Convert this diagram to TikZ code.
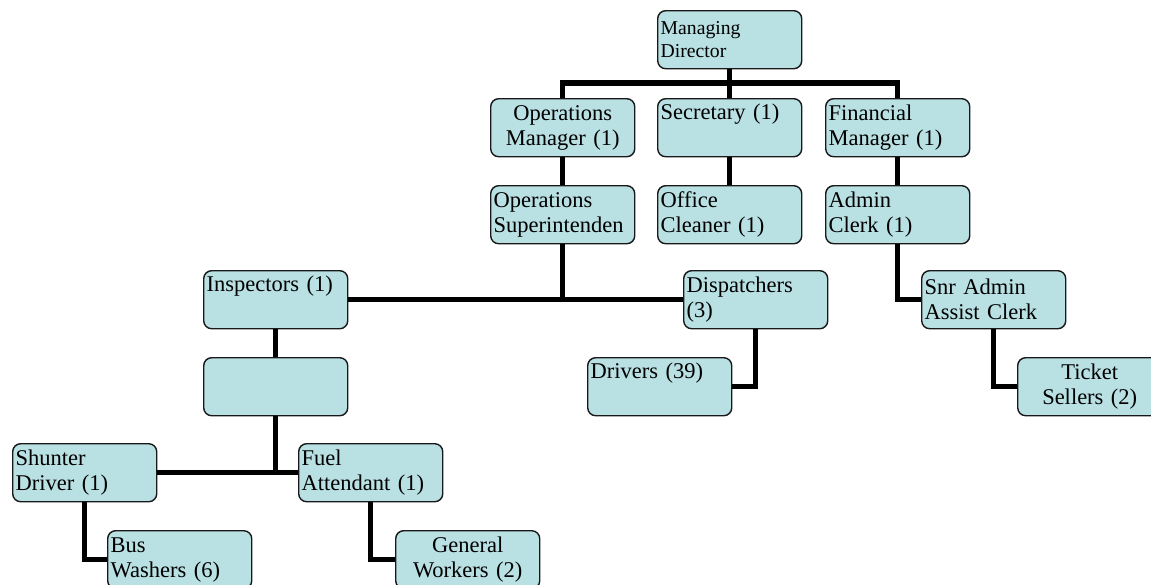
\documentclass[tikz,border=0pt]{standalone}
\usepackage{fontspec}
\setmainfont{Liberation Serif}
\definecolor{boxfill}{RGB}{185,224,227}
\definecolor{boxline}{RGB}{25,25,25}
\tikzset{
  post/.style={draw=boxline, line width=1pt, fill=boxfill, rounded corners=0.2cm,
    anchor=north west, minimum width=3.6cm, minimum height=1.45cm,
    text width=3.45cm, inner sep=0.075cm, align=left,
    font=\fontsize{16}{17.7}\selectfont},
  link/.style={line width=3.6pt}
}
\begin{document}
\begin{tikzpicture}
            \def\u{0.025}
            \useasboundingbox (0,0) rectangle (1151*\u, -584*\u);

            \node[post, font=\fontsize{14}{16.3}\selectfont] (md) at (657*\u, -10*\u) {Managing\\Director};

            \node[post, align=center] (opm) at (490*\u, -98*\u) {Operations\\Manager (1)};
            \node[post] (sec) at (657*\u, -98*\u) {Secretary (1)\\\strut};
            \node[post] (fin) at (825*\u, -98*\u) {Financial\\Manager (1)};

            \node[post] (ops) at (490*\u, -185*\u) {Operations\\Superintenden};
            \node[post] (cln) at (657*\u, -185*\u) {Office\\Cleaner (1)};
            \node[post] (clerk) at (825*\u, -185*\u) {Admin\\Clerk (1)};

            \node[post] (insp) at (203*\u, -270*\u) {Inspectors (1)\\\strut};
            \node[post] (disp) at (683*\u, -270*\u) {Dispatchers\\(3)};
            \node[post] (snr) at (921*\u, -270*\u) {Snr Admin\\Assist Clerk};

            \node[post] (blank) at (203*\u, -357*\u) {};
            \node[post] (drv) at (587*\u, -357*\u) {Drivers (39)\\\strut};
            \node[post, align=center] (tkt) at (1017*\u, -357*\u) {Ticket\\Sellers (2)};

            \node[post] (shunt) at (12*\u, -443*\u) {Shunter\\Driver (1)};
            \node[post] (fuel) at (298*\u, -443*\u) {Fuel\\Attendant (1)};

            \node[post] (bus) at (107*\u, -530*\u) {Bus\\Washers (6)};
            \node[post, align=center] (gen) at (395*\u, -530*\u) {General\\Workers (2)};

            \coordinate (J1) at (md.south |- 0,-83*\u);

            \draw[link] (md.south) -- (J1);
            \draw[link] (opm.north) |- (J1) -| (fin.north);
            \draw[link] (J1) -- (sec.north);

            \draw[link] (opm) -- (ops);
            \draw[link] (sec) -- (cln);
            \draw[link] (fin) -- (clerk);

            \draw[link] (ops.south) -- (ops.south |- insp.east);
            \draw[link] (insp.east) -- (disp.west);
            \draw[link] (disp.south) |- (drv.east);
            \draw[link] (clerk.south) |- (snr.west);
            \draw[link] (snr.south) |- (tkt.west);

            \draw[link] (insp) -- (blank);
            \draw[link] (blank.south) -- (blank.south |- shunt.east);
            \draw[link] (shunt.east) -- (fuel.west);
            \draw[link] (shunt.south) |- (bus.west);
            \draw[link] (fuel.south) |- (gen.west);
        \end{tikzpicture}
\end{document}
